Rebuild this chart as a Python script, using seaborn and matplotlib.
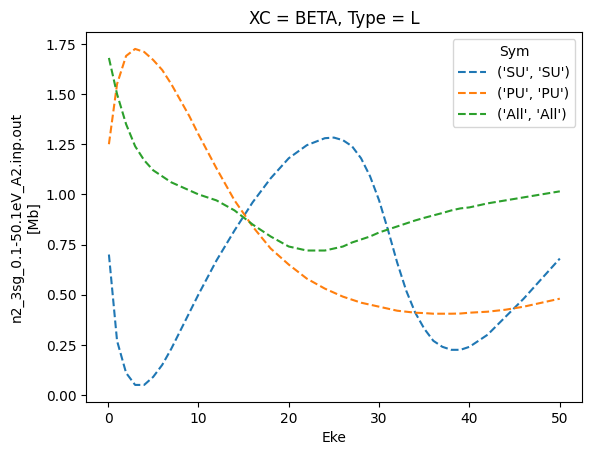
import matplotlib
matplotlib.use("Agg")
import matplotlib.pyplot as plt
import seaborn as sns
import pandas as pd

eke = [0.1, 1, 2, 3, 4, 5, 6, 7, 8, 9, 10, 12, 14, 16, 18, 20, 22, 24, 25, 26,
       27, 28, 29, 30, 31, 32, 33, 34, 35, 36, 37, 38, 39, 40, 42, 44, 46, 48, 50]

# beta values per symmetry
su = [0.70, 0.27, 0.11, 0.05, 0.05, 0.09, 0.15, 0.23, 0.32, 0.41, 0.50, 0.67, 0.82,
      0.96, 1.08, 1.18, 1.245, 1.28, 1.283, 1.27, 1.24, 1.18, 1.09, 0.97, 0.82,
      0.66, 0.52, 0.41, 0.33, 0.27, 0.24, 0.225, 0.225, 0.24, 0.30, 0.39, 0.48,
      0.58, 0.68]
pu = [1.25, 1.55, 1.69, 1.725, 1.71, 1.67, 1.62, 1.55, 1.47, 1.39, 1.30, 1.13, 0.97,
      0.84, 0.73, 0.65, 0.58, 0.53, 0.51, 0.49, 0.475, 0.46, 0.45, 0.44, 0.43,
      0.42, 0.415, 0.41, 0.408, 0.405, 0.405, 0.405, 0.406, 0.41, 0.415, 0.425,
      0.44, 0.46, 0.48]
all_sym = [1.68, 1.50, 1.35, 1.24, 1.17, 1.12, 1.09, 1.06, 1.04, 1.02, 1.00, 0.97,
           0.92, 0.85, 0.79, 0.74, 0.72, 0.72, 0.73, 0.74, 0.76, 0.775, 0.79, 0.81,
           0.825, 0.84, 0.855, 0.87, 0.883, 0.895, 0.907, 0.92, 0.93, 0.935, 0.955,
           0.97, 0.985, 1.00, 1.015]

series = {"('SU', 'SU')": su, "('PU', 'PU')": pu, "('All', 'All')": all_sym}

fig, ax = plt.subplots(figsize=(6.4, 4.8), dpi=100)
for name, vals in series.items():
    df = pd.DataFrame({"Eke": eke, "val": vals})
    sns.lineplot(data=df, x="Eke", y="val", label=name, linestyle="--", ax=ax)

ax.set_title("XC = BETA, Type = L")
ax.set_xlabel("Eke")
ax.set_ylabel("n2_3sg_0.1-50.1eV_A2.inp.out\n[Mb]")
ax.legend(title="Sym", loc="upper right")

fig.savefig("out.png", dpi=100, bbox_inches="tight")
